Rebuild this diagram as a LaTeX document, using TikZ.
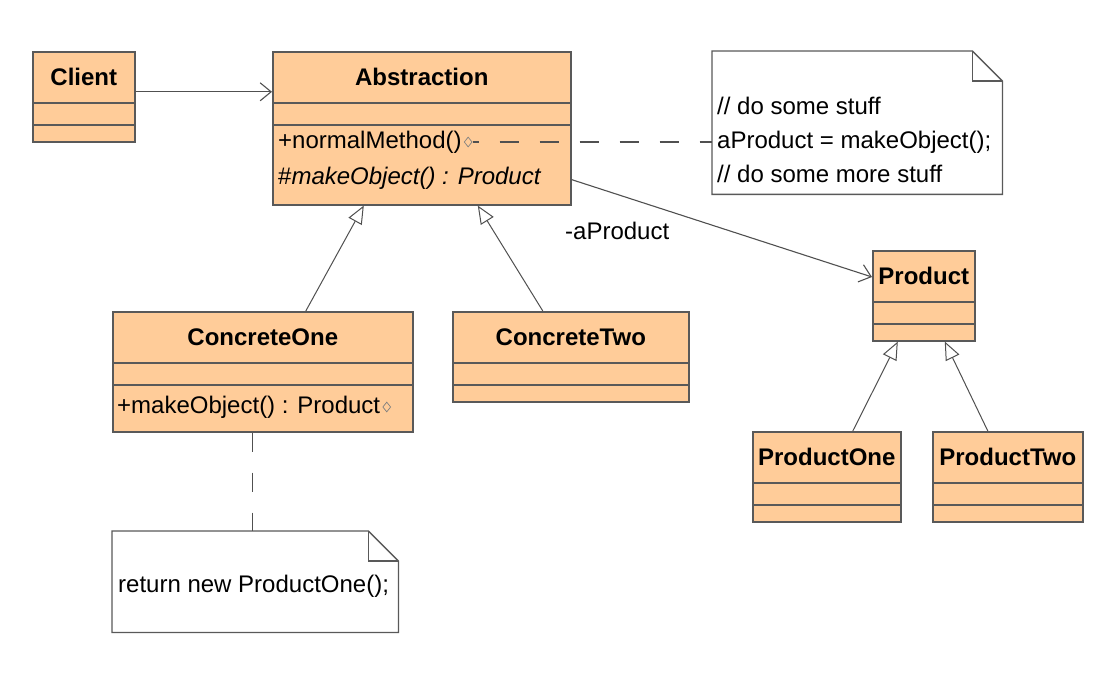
\documentclass[tikz,border=0pt]{standalone}
\usepackage{fontspec}
\setmainfont{Liberation Sans}
\usetikzlibrary{arrows.meta,positioning,shapes.geometric}
\definecolor{peach}{HTML}{FFCC99}
\definecolor{boxgray}{HTML}{595959}
\definecolor{linkgray}{HTML}{505050}

\begin{document}
\begin{tikzpicture}[
  x=1pt, y=-1pt,
  umlclass/.style={draw=boxgray,fill=peach,line width=1.6pt,inner sep=0,anchor=north west},
  clsname/.style={font=\fontsize{24}{27}\selectfont\bfseries,inner sep=0},
  meth/.style={font=\fontsize{24}{27}\selectfont,inner sep=0,anchor=west},
  notebox/.style={inner sep=0,anchor=north west},
  notetext/.style={font=\fontsize{24}{34}\selectfont,align=left,inner sep=0,anchor=west},
  tinydia/.style={diamond,draw=gray,line width=0.7pt,minimum width=8pt,minimum height=10pt,inner sep=0},
  assoc/.style={draw=linkgray,line width=1.1pt,-{Straight Barb[length=11pt,width=18pt]}},
  general/.style={draw=linkgray,line width=1pt,-{Triangle[open,length=18pt,width=15pt,fill=white]}},
  notelink/.style={draw=linkgray,line width=1.2pt,dash pattern=on 19pt off 21pt}
  ]

  \useasboundingbox (0,0) rectangle (1120,690);

  % classes: name/x/y/width/height/title
  \foreach \n/\x/\y/\w/\h/\t in {
      client/32/51/102/90/Client,
      abs/272/51/298/153/Abstraction,
      cone/112/311/300/120/ConcreteOne,
      ctwo/452/311/236/90/ConcreteTwo,
      prod/872/250/102/90/Product,
      pone/752/431/148/90/ProductOne,
      ptwo/932/431/150/90/ProductTwo} {
    \node[umlclass,minimum width=\w pt,minimum height=\h pt] (\n) at (\x,\y) {};
    \node[clsname] (\n-name) at ([yshift=-26pt]\n.north) {\t};
    \draw[boxgray,line width=1.6pt] ([yshift=-52pt]\n.north west) -- ([yshift=-52pt]\n.north east);
    \draw[boxgray,line width=1.6pt] ([yshift=-74pt]\n.north west) -- ([yshift=-74pt]\n.north east);
  }

  % operations
  \node[meth] (abs-m1) at (278,142) {+normalMethod()};
  \node[tinydia,right=2pt of abs-m1] (abs-dia) {};
  \node[meth] (abs-m2) at (278,178) {\#\textit{makeObject() : Product}};
  \node[meth] (cone-m1) at (117,407) {+makeObject() : Product};
  \node[tinydia,right=2pt of cone-m1] (cone-dia) {};

  % notes
  \node[notebox,minimum width=290pt,minimum height=143pt] (note1) at (712,51) {};
  \draw[boxgray,line width=1.3pt,fill=white] (note1.north west) -- ([xshift=-30pt]note1.north east)
    -- ([yshift=-30pt]note1.north east) -- (note1.south east) -- (note1.south west) -- cycle;
  \draw[boxgray,line width=1.3pt] ([xshift=-30pt]note1.north east) |- ([yshift=-30pt]note1.north east);
  \node[notetext] (note1-text) at (717,140) {// do some stuff\\aProduct = makeObject();\\// do some more stuff};

  \node[notebox,minimum width=286pt,minimum height=101pt] (note2) at (112,531) {};
  \draw[boxgray,line width=1.3pt,fill=white] (note2.north west) -- ([xshift=-30pt]note2.north east)
    -- ([yshift=-30pt]note2.north east) -- (note2.south east) -- (note2.south west) -- cycle;
  \draw[boxgray,line width=1.3pt] ([xshift=-30pt]note2.north east) |- ([yshift=-30pt]note2.north east);
  \node[notetext] (note2-text) at (118,586) {return new ProductOne();};

  % connectors
  \draw[assoc] ([yshift=5pt]client.east) -- ([yshift=5pt]client.east -| abs.west);
  \draw[assoc] ([yshift=26pt]abs.south east) -- ([yshift=-27pt]prod.north west);
  \node[meth] (assoc-label) at (565,231) {-aProduct};
  \draw[general] ([xshift=43pt]cone.north) -- ([xshift=-58pt]abs.south);
  \draw[general] ([xshift=-28pt]ctwo.north) -- ([xshift=56pt]abs.south);
  \draw[general] ([xshift=26pt]pone.north) -- ([xshift=-26pt]prod.south);
  \draw[general] ([xshift=-20pt]ptwo.north) -- ([xshift=21pt]prod.south);
  \draw[notelink,dash phase=13pt] (abs-dia.east) -- (abs-dia.east -| note1.west);
  \draw[notelink] ([xshift=-10pt]cone.south) -- ([xshift=-10pt]cone.south |- note2.north);

\end{tikzpicture}
\end{document}
